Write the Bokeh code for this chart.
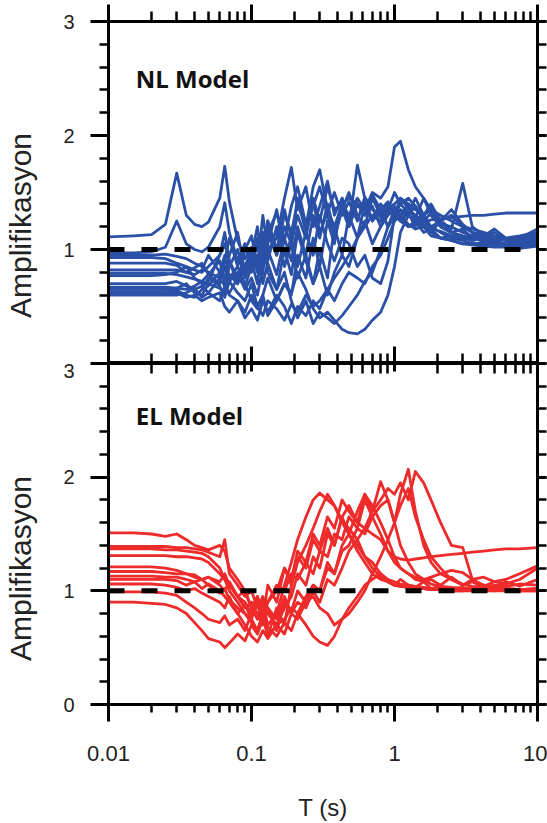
import math
from bokeh.plotting import figure
from bokeh.models import Span, FixedTicker, LogAxis, LinearAxis, Range1d, Label
from bokeh.layouts import column, row
from bokeh.embed import file_html
from bokeh.resources import INLINE

# ---------------- data ----------------
periods = [0.01, 0.015, 0.02, 0.025, 0.03, 0.035, 0.04,
           0.045, 0.05, 0.06, 0.065, 0.07, 0.08, 0.09,
           0.1, 0.11, 0.12, 0.13, 0.15, 0.17, 0.19,
           0.21, 0.24, 0.27, 0.3, 0.34, 0.38, 0.43,
           0.48, 0.55, 0.62, 0.7, 0.8, 0.9, 1.0,
           1.1, 1.25, 1.4, 1.6, 1.8, 2.1, 2.5,
           3.0, 3.5, 4.2, 5.0, 6.0, 7.5, 10.0]

nl_curves = [
    [1.11, 1.12, 1.13, 1.22, 1.67, 1.30, 1.22,
     1.20, 1.24, 1.45, 1.73, 1.42, 1.08, 0.92,
     1.02, 0.82, 0.98, 1.15, 1.32, 1.08, 1.38,
     1.55, 1.22, 1.42, 1.15, 1.32, 1.50, 1.30,
     1.42, 1.25, 1.46, 1.35, 1.28, 1.36, 1.40,
     1.45, 1.36, 1.28, 1.22, 1.18, 1.16, 1.12,
     1.10, 1.08, 1.10, 1.06, 1.10, 1.08, 1.12],
    [0.97, 0.97, 0.98, 1.02, 1.25, 1.05, 1.00,
     0.98, 1.02, 1.20, 1.41, 1.15, 0.90, 1.05,
     0.85, 1.10, 0.90, 1.25, 0.95, 1.35, 1.10,
     1.45, 1.15, 1.38, 1.55, 1.30, 1.10, 1.35,
     1.50, 1.30, 1.20, 1.45, 1.30, 1.40, 1.25,
     1.35, 1.30, 1.38, 1.25, 1.20, 1.15, 1.10,
     1.08, 1.12, 1.06, 1.08, 1.04, 1.05, 1.06],
    [0.95, 0.95, 0.95, 0.96, 0.94, 0.92, 0.88,
     0.85, 0.80, 0.75, 0.90, 1.10, 0.85, 0.70,
     0.55, 0.48, 0.60, 0.75, 0.55, 0.70, 0.62,
     0.80, 0.65, 0.48, 0.40, 0.45, 0.38, 0.30,
     0.27, 0.26, 0.30, 0.38, 0.45, 0.60, 0.85,
     1.15, 1.30, 1.25, 1.20, 1.15, 1.10, 1.08,
     1.05, 1.04, 1.03, 1.02, 1.02, 1.01, 1.03],
    [0.93, 0.93, 0.93, 0.92, 0.88, 0.85, 0.82,
     0.80, 0.85, 0.95, 1.05, 0.90, 0.75, 0.85,
     0.90, 1.05, 0.85, 1.15, 0.95, 1.20, 1.05,
     1.30, 1.10, 1.45, 1.25, 1.55, 1.35, 1.40,
     1.45, 1.40, 1.35, 1.50, 1.45, 1.55, 1.90,
     1.95, 1.70, 1.55, 1.45, 1.35, 1.30, 1.25,
     1.20, 1.15, 1.12, 1.10, 1.08, 1.06, 1.08],
    [0.88, 0.88, 0.88, 0.88, 0.86, 0.80, 0.78,
     0.82, 0.95, 0.80, 0.75, 0.95, 1.15, 0.80,
     0.95, 1.20, 0.85, 1.05, 1.35, 0.95, 1.10,
     0.85, 1.15, 0.95, 1.30, 1.05, 0.90, 1.10,
     1.05, 0.85, 0.95, 0.75, 0.70, 0.90, 1.30,
     1.45, 1.40, 1.35, 1.30, 1.35, 1.20, 1.15,
     1.18, 1.10, 1.12, 1.08, 1.05, 1.08, 1.10],
    [0.82, 0.82, 0.82, 0.82, 0.82, 0.80, 0.84,
     0.88, 0.78, 0.70, 0.85, 0.72, 0.62, 0.55,
     0.70, 0.50, 0.60, 0.42, 0.55, 0.70, 0.60,
     0.95, 0.75, 1.10, 0.85, 1.25, 1.05, 1.45,
     1.20, 1.40, 1.30, 1.48, 1.35, 1.42, 1.30,
     1.40, 1.32, 1.45, 1.30, 1.38, 1.25, 1.35,
     1.22, 1.15, 1.12, 1.18, 1.10, 1.08, 1.15],
    [0.79, 0.79, 0.79, 0.79, 0.78, 0.76, 0.74,
     0.72, 0.78, 0.90, 0.70, 0.85, 1.00, 0.75,
     0.90, 0.70, 1.10, 0.80, 0.65, 1.00, 0.78,
     1.15, 0.90, 0.70, 1.00, 0.75, 1.20, 0.95,
     1.30, 1.10, 1.40, 1.25, 1.35, 1.20, 1.30,
     1.25, 1.20, 1.22, 1.24, 1.26, 1.27, 1.28,
     1.29, 1.30, 1.30, 1.31, 1.32, 1.32, 1.32],
    [0.77, 0.77, 0.77, 0.78, 0.80, 0.85, 0.75,
     0.70, 0.72, 0.95, 1.15, 0.90, 0.70, 1.00,
     1.12, 0.85, 1.30, 1.00, 1.10, 1.45, 1.72,
     1.35, 1.55, 1.20, 1.38, 1.60, 1.30, 1.45,
     1.25, 1.40, 1.30, 1.38, 1.20, 1.30, 1.35,
     1.25, 1.32, 1.20, 1.30, 1.15, 1.25, 1.18,
     1.58, 1.20, 1.12, 1.15, 1.08, 1.10, 1.12],
    [0.70, 0.70, 0.70, 0.70, 0.72, 0.68, 0.65,
     0.68, 0.62, 0.75, 0.68, 0.60, 0.55, 0.45,
     0.60, 0.50, 0.42, 0.55, 0.48, 0.38, 0.52,
     0.45, 0.60, 0.50, 0.55, 0.65, 0.55, 0.70,
     0.80, 0.75, 0.70, 0.85, 0.95, 1.10, 1.25,
     1.30, 1.22, 1.18, 1.20, 1.12, 1.10, 1.08,
     1.05, 1.06, 1.04, 1.05, 1.03, 1.04, 1.05],
    [0.67, 0.67, 0.67, 0.67, 0.66, 0.65, 0.68,
     0.72, 0.68, 0.80, 0.95, 0.75, 0.85, 1.05,
     0.80, 0.95, 0.70, 0.88, 0.65, 0.80, 0.55,
     0.40, 0.55, 0.35, 0.45, 0.40, 0.35, 0.42,
     0.50, 0.60, 0.72, 0.80, 1.00, 1.20, 1.35,
     1.30, 1.40, 1.25, 1.30, 1.20, 1.25, 1.15,
     1.10, 1.12, 1.08, 1.06, 1.05, 1.04, 1.06],
    [0.65, 0.65, 0.65, 0.65, 0.66, 0.70, 0.62,
     0.60, 0.70, 0.66, 0.62, 0.78, 0.70, 0.85,
     1.00, 0.80, 1.15, 0.90, 1.20, 0.85, 1.05,
     0.75, 0.95, 0.70, 0.85, 0.60, 0.80, 0.95,
     0.85, 1.10, 1.25, 1.05, 1.20, 1.35, 1.50,
     1.40, 1.45, 1.38, 1.30, 1.40, 1.25, 1.30,
     1.20, 1.18, 1.15, 1.12, 1.10, 1.12, 1.15],
    [0.63, 0.63, 0.63, 0.63, 0.64, 0.60, 0.58,
     0.65, 0.75, 0.68, 0.58, 0.72, 0.80, 0.65,
     0.75, 0.60, 0.85, 1.00, 0.78, 1.10, 0.90,
     1.20, 0.95, 1.30, 1.10, 1.40, 1.15, 1.35,
     1.20, 1.74, 1.45, 1.25, 1.35, 1.20, 1.30,
     1.25, 1.35, 1.28, 1.45, 1.30, 1.20, 1.15,
     1.12, 1.10, 1.08, 1.05, 1.03, 1.04, 1.05],
    [0.61, 0.61, 0.61, 0.61, 0.62, 0.58, 0.60,
     0.55, 0.58, 0.62, 0.50, 0.45, 0.55, 0.40,
     0.48, 0.38, 0.55, 0.45, 0.60, 0.50, 0.35,
     0.50, 0.42, 0.55, 0.48, 0.65, 0.75, 0.85,
     0.95, 1.10, 1.20, 1.30, 1.25, 1.35, 1.30,
     1.28, 1.20, 1.25, 1.15, 1.18, 1.10, 1.12,
     1.08, 1.05, 1.06, 1.04, 1.02, 1.03, 1.04],
    [0.60, 0.60, 0.60, 0.60, 0.60, 0.62, 0.66,
     0.58, 0.62, 0.55, 0.68, 0.62, 0.75, 0.68,
     0.85, 1.05, 0.78, 1.25, 1.00, 1.30, 1.15,
     1.40, 1.20, 1.55, 1.70, 1.35, 1.20, 1.40,
     1.30, 1.45, 1.35, 1.28, 1.40, 1.32, 1.38,
     1.30, 1.35, 1.30, 1.25, 1.32, 1.22, 1.20,
     1.15, 1.12, 1.14, 1.10, 1.08, 1.10, 1.18],
]

el_curves = [
    [1.51, 1.51, 1.50, 1.48, 1.50, 1.45, 1.40,
     1.38, 1.36, 1.40, 1.35, 1.20, 1.10, 1.00,
     0.85, 0.75, 0.90, 0.70, 0.80, 1.05, 1.25,
     1.45, 1.65, 1.80, 1.86, 1.80, 1.75, 1.60,
     1.50, 1.40, 1.30, 1.25, 1.15, 1.10, 1.08,
     1.06, 1.05, 1.04, 1.03, 1.02, 1.02, 1.01,
     1.01, 1.00, 1.01, 1.00, 1.00, 1.00, 1.01],
    [1.39, 1.39, 1.39, 1.39, 1.38, 1.38, 1.37,
     1.36, 1.34, 1.30, 1.45, 1.15, 1.05, 0.95,
     1.00, 0.85, 0.95, 0.80, 0.70, 0.85, 0.95,
     1.15, 1.05, 1.30, 1.20, 1.50, 1.40, 1.65,
     1.75, 1.60, 1.85, 1.70, 1.96, 1.80, 1.60,
     1.40, 1.25, 1.15, 1.10, 1.06, 1.04, 1.03,
     1.02, 1.02, 1.01, 1.02, 1.01, 1.00, 1.02],
    [1.37, 1.37, 1.37, 1.36, 1.36, 1.35, 1.34,
     1.33, 1.30, 1.20, 1.10, 1.05, 0.95, 0.90,
     0.80, 0.88, 0.75, 0.90, 1.00, 1.20, 1.10,
     1.35, 1.25, 1.50, 1.40, 1.65, 1.55, 1.80,
     1.70, 1.60, 1.55, 1.50, 1.45, 1.35, 1.30,
     1.28, 1.27, 1.28, 1.29, 1.30, 1.31, 1.32,
     1.33, 1.34, 1.35, 1.36, 1.37, 1.37, 1.38],
    [1.31, 1.31, 1.31, 1.31, 1.30, 1.30, 1.29,
     1.28, 1.25, 1.15, 1.10, 1.00, 0.90, 0.80,
     0.75, 0.65, 0.80, 0.60, 0.70, 0.75, 0.85,
     0.80, 0.95, 1.05, 1.00, 1.20, 1.15, 1.35,
     1.40, 1.55, 1.50, 1.65, 1.75, 1.80, 1.60,
     1.85, 2.07, 1.70, 1.40, 1.25, 1.15, 1.10,
     1.05, 1.08, 1.03, 1.05, 1.04, 1.06, 1.05],
    [1.21, 1.21, 1.21, 1.20, 1.18, 1.15, 1.12,
     1.10, 1.12, 1.05, 1.00, 1.08, 0.95, 0.85,
     0.90, 0.80, 0.70, 0.85, 0.75, 0.95, 0.80,
     0.90, 0.85, 1.00, 0.90, 1.10, 1.05, 1.20,
     1.35, 1.45, 1.55, 1.70, 1.80, 1.90, 1.85,
     1.95, 1.80, 2.05, 1.95, 1.80, 1.60, 1.40,
     1.38, 1.10, 1.05, 1.03, 1.02, 1.01, 1.02],
    [1.13, 1.13, 1.13, 1.12, 1.12, 1.10, 1.08,
     1.10, 1.05, 0.98, 1.02, 0.92, 0.85, 0.80,
     0.72, 0.65, 0.78, 0.60, 0.85, 0.70, 1.05,
     1.25, 1.40, 1.55, 1.70, 1.85, 1.75, 1.62,
     1.55, 1.45, 1.30, 1.20, 1.12, 1.08, 1.05,
     1.04, 1.03, 1.02, 1.02, 1.01, 1.01, 1.00,
     1.00, 1.01, 1.00, 1.00, 1.01, 1.00, 1.00],
    [1.10, 1.10, 1.10, 1.10, 1.09, 1.05, 1.08,
     1.02, 1.06, 1.00, 0.95, 0.90, 0.80, 0.70,
     0.60, 0.55, 0.65, 0.58, 0.70, 0.62, 0.80,
     0.75, 0.90, 1.05, 1.00, 1.25, 1.15, 1.40,
     1.50, 1.70, 1.85, 1.75, 1.60, 1.45, 1.30,
     1.20, 1.15, 1.10, 1.08, 1.10, 1.05, 1.12,
     1.05, 1.10, 1.04, 1.08, 1.06, 1.10, 1.20],
    [1.06, 1.06, 1.06, 1.05, 1.03, 1.00, 1.02,
     0.98, 0.95, 0.90, 0.85, 0.95, 0.80, 0.88,
     0.75, 0.92, 0.70, 0.85, 0.65, 0.90, 0.82,
     1.00, 0.90, 0.95, 0.85, 0.80, 0.70, 0.75,
     0.80, 0.90, 1.00, 1.15, 1.30, 1.45, 1.60,
     1.75, 1.90, 1.65, 1.45, 1.30, 1.20, 1.10,
     1.06, 1.04, 1.03, 1.02, 1.02, 1.01, 1.02],
    [0.99, 0.99, 0.99, 0.98, 0.96, 0.90, 0.85,
     0.80, 0.75, 0.72, 0.78, 0.70, 0.75, 0.65,
     0.80, 0.95, 0.75, 1.05, 0.90, 1.20, 1.05,
     1.30, 1.20, 1.45, 1.35, 1.55, 1.40, 1.65,
     1.50, 1.35, 1.25, 1.15, 1.10, 1.08, 1.05,
     1.10, 1.05, 1.03, 1.08, 1.02, 1.04, 1.02,
     1.03, 1.01, 1.05, 1.02, 1.08, 1.04, 1.10],
    [0.90, 0.90, 0.89, 0.88, 0.85, 0.80, 0.72,
     0.65, 0.58, 0.55, 0.50, 0.54, 0.62, 0.56,
     0.70, 0.62, 0.75, 0.68, 0.60, 0.72, 0.65,
     0.80, 0.70, 0.60, 0.55, 0.52, 0.60, 0.75,
     0.85, 0.95, 1.05, 1.10, 1.15, 1.08, 1.05,
     1.04, 1.03, 1.02, 1.02, 1.01, 1.01, 1.00,
     1.00, 1.00, 1.00, 1.01, 1.00, 1.00, 1.00],
    [1.17, 1.17, 1.17, 1.16, 1.15, 1.15, 1.14,
     1.10, 1.12, 1.08, 1.15, 1.05, 0.95, 1.00,
     0.85, 0.95, 0.80, 0.90, 1.05, 1.00, 1.15,
     1.10, 1.25, 1.15, 1.35, 1.30, 1.50, 1.45,
     1.65, 1.55, 1.80, 1.65, 1.50, 1.35, 1.25,
     1.20, 1.15, 1.12, 1.10, 1.12, 1.15, 1.18,
     1.16, 1.10, 1.12, 1.08, 1.10, 1.15, 1.22],
]

x_ticks = [0.01, 0.1, 1, 10]
x_tick_labels = ["0.01", "0.1", "1", "10"]
y_ticks = [0, 1, 2, 3]
y_tick_labels = ["0", "1", "2", "3"]
panel_titles = ["NL Model", "EL Model"]
y_label = "Amplifikasyon"
x_label = "T (s)"
reference_level = 1.0

BLUE = "#2a51a7"
RED = "#ee2a2a"
FONT = "Liberation Sans"
LABEL_W = 40      # width of the strip holding the vertical axis titles
TOP_H, BOT_H = 363, 460

x_minor = [m * d for d in (0.01, 0.1, 1) for m in range(2, 10)]
y_minor = [round(0.2 * k, 1) for k in range(0, 16)]


def hide_labels(ax):
    ax.major_label_text_font_size = "1px"
    ax.major_label_text_alpha = 0
    ax.major_label_standoff = 0


def style_common(ax):
    ax.axis_line_width = 3
    ax.major_tick_line_width = 3
    ax.minor_tick_line_width = 2.5


def style_left(ax):
    ax.ticker = FixedTicker(ticks=y_ticks, minor_ticks=y_minor)
    style_common(ax)
    ax.major_tick_in = 0
    ax.major_tick_out = 18
    ax.minor_tick_in = 0
    ax.minor_tick_out = 9
    ax.major_label_overrides = dict(zip(y_ticks, y_tick_labels))
    ax.major_label_text_font = FONT
    ax.major_label_text_font_size = "20px"
    ax.major_label_text_color = "#222222"
    ax.major_label_standoff = 16


def style_x(ax, tin, tout, minin, minout, labels):
    ax.ticker = FixedTicker(ticks=x_ticks, minor_ticks=x_minor)
    style_common(ax)
    ax.major_tick_in = tin
    ax.major_tick_out = tout
    ax.minor_tick_in = minin
    ax.minor_tick_out = minout
    ax.major_label_overrides = dict(zip(x_ticks, x_tick_labels))
    if labels:
        ax.major_label_text_font = FONT
        ax.major_label_text_font_size = "22px"
        ax.major_label_text_color = "#222222"
        ax.major_label_standoff = 24
    else:
        hide_labels(ax)


def make_panel(curves, color, title, title_y, top):
    p = figure(width=547 - LABEL_W, height=TOP_H if top else BOT_H,
               x_axis_type="log", x_range=Range1d(0.01, 10), y_range=Range1d(0, 3),
               x_axis_location="above" if top else "below",
               output_backend="svg", toolbar_location=None,
               min_border_left=108 - LABEL_W, min_border_right=10,
               min_border_top=21 if top else 0,
               min_border_bottom=0 if top else 118)
    p.grid.visible = False
    p.outline_line_color = "black"
    p.outline_line_width = 3
    p.background_fill_color = "white"
    p.border_fill_color = "white"

    for c in curves:
        p.line(periods, c, line_color=color, line_width=2.8, line_join="round")

    p.add_layout(Span(location=reference_level, dimension="width", line_color="black",
                      line_width=5, line_dash="16 17"))

    style_left(p.yaxis[0])
    right = LinearAxis(ticker=FixedTicker(ticks=y_ticks, minor_ticks=y_minor))
    style_common(right)
    right.major_tick_in = 0
    right.major_tick_out = 9
    right.minor_tick_in = 0
    right.minor_tick_out = 9
    hide_labels(right)
    p.add_layout(right, "right")

    if top:
        # the border label "3" belongs to the lower panel
        p.yaxis[0].major_label_overrides = {0: "", 1: y_tick_labels[1],
                                            2: y_tick_labels[2], 3: y_tick_labels[3]}
        style_x(p.xaxis[0], 0, 17, 0, 10, False)
        ax2 = LogAxis()
        style_x(ax2, 17, 0, 10, 0, False)
        p.add_layout(ax2, "below")
    else:
        style_x(p.xaxis[0], 0, 17, 0, 8, True)
        p.xaxis[0].axis_label = x_label
        p.xaxis[0].axis_label_text_font = FONT
        p.xaxis[0].axis_label_text_font_size = "24px"
        p.xaxis[0].axis_label_text_font_style = "normal"
        p.xaxis[0].axis_label_text_color = "#222222"
        p.xaxis[0].axis_label_standoff = 30
        ax2 = LogAxis()
        style_x(ax2, 8, 0, 10, 0, False)
        p.add_layout(ax2, "above")

    p.add_layout(Label(x=0.0155, y=title_y, text=title, text_font="Open Sans",
                       text_font_style="bold", text_font_size="24px",
                       text_baseline="middle", text_color="#111111"))
    return p


# narrow strip on the left that carries the two vertical axis titles
strip = figure(width=LABEL_W, height=TOP_H + BOT_H, x_range=Range1d(0, LABEL_W),
               y_range=Range1d(0, TOP_H + BOT_H), output_backend="svg",
               toolbar_location=None, x_axis_location=None, y_axis_location=None,
               min_border=0)
strip.grid.visible = False
strip.outline_line_color = None
strip.border_fill_color = "white"
for y_centre in (TOP_H + BOT_H - 225, TOP_H + BOT_H - 568):
    strip.add_layout(Label(x=LABEL_W / 2, y=y_centre, text=y_label, angle=math.pi / 2,
                           text_align="center", text_baseline="middle",
                           text_font=FONT, text_font_size="30px", text_color="#222222"))

p1 = make_panel(nl_curves, BLUE, panel_titles[0], 2.5, True)
p2 = make_panel(el_curves, RED, panel_titles[1], 2.54, False)
layout = row(strip, column(p1, p2, spacing=0), spacing=0)

open("out.html", "w").write(file_html(layout, INLINE))
